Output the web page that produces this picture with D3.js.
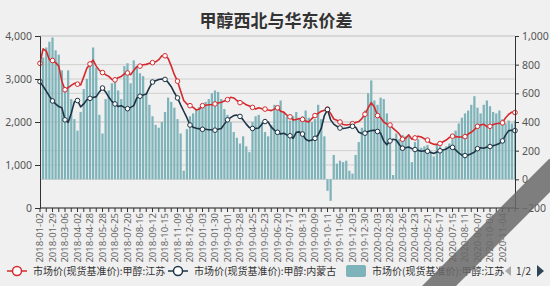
<!DOCTYPE html>
<html>
<head>
<meta charset="utf-8">
<script src="https://cdn.jsdelivr.net/npm/d3@7"></script>
<style>
  html, body { margin: 0; padding: 0; background: #f0f0f0; }
  svg { display: block; font-family: "Noto Sans CJK SC", "Noto Sans", sans-serif; }
</style>
</head>
<body>
<div id="chart"></div>
<script>
// weekly samples, 2018-01-02 .. end of 2020-11
var tickLabels = ["2018-01-02","2018-01-29","2018-03-06","2018-04-02","2018-04-28","2018-05-28","2018-06-25",
  "2018-07-20","2018-08-16","2018-09-12","2018-10-15","2018-11-09","2018-12-06","2019-01-03","2019-01-30",
  "2019-03-01","2019-03-28","2019-04-25","2019-05-23","2019-06-20","2019-07-17","2019-08-13","2019-09-09",
  "2019-10-11","2019-11-06","2019-12-03","2019-12-30","2020-02-03","2020-02-28","2020-03-26","2020-04-23",
  "2020-05-21","2020-06-17","2020-07-15","2020-08-11","2020-09-07","2020-10-09","2020-11-04"];

// 市场价(现货基准价):甲醇:江苏  (left axis)
var jiangsu = [3365,3700,3650,3450,3430,3380,3300,2950,2750,2800,2850,2900,2880,2860,3050,3250,3350,3440,3300,3200,
  3150,3100,3060,2990,2980,3030,3060,3120,3140,3100,3200,3290,3300,3330,3340,3365,3380,3400,3450,3540,
  3540,3480,3300,3100,2950,2720,2500,2420,2380,2340,2280,2300,2380,2390,2400,2400,2420,2440,2460,2490,
  2520,2575,2560,2500,2450,2450,2400,2370,2340,2300,2330,2310,2300,2280,2265,2300,2330,2250,2230,2160,
  2120,2050,2060,2080,2060,2020,2000,2080,2150,2200,2250,2270,2300,2200,2070,2040,2000,1940,1930,1940,
  1960,1990,2010,2080,2180,2330,2450,2350,2150,2100,2000,1950,1930,1850,1790,1720,1600,1620,1700,1600,
  1630,1670,1650,1610,1580,1510,1480,1480,1500,1540,1580,1640,1670,1660,1650,1650,1660,1720,1760,1820,
  1900,1930,1950,1890,1900,1940,1960,1970,1980,2100,2180,2230,2220];

// 市场价(现货基准价):甲醇:内蒙古  (left axis)
var neimenggu = [2940,2830,2720,2600,2490,2420,2360,2330,2050,1990,2200,2470,2500,2350,2420,2520,2550,2570,2590,2700,
  2790,2700,2580,2480,2420,2360,2380,2340,2310,2340,2380,2560,2600,2630,2650,2800,2930,2960,2990,3000,
  2990,2920,2820,2680,2560,2400,2250,2100,1930,1880,1855,1840,1830,1830,1820,1820,1810,1830,1850,1950,
  2050,2100,2150,2160,2130,2050,1950,1870,1850,1850,1860,1950,2010,2000,1880,1810,1760,1720,1740,1700,
  1680,1620,1760,1770,1720,1600,1560,1580,1620,1700,1850,2150,2290,2050,1950,1900,1860,1850,1860,1880,
  1900,1880,1760,1730,1740,1780,1800,1810,1780,1740,1560,1470,1560,1600,1580,1470,1390,1400,1420,1380,
  1360,1340,1320,1330,1320,1290,1270,1300,1330,1350,1370,1420,1410,1350,1280,1230,1220,1230,1260,1300,
  1380,1400,1390,1420,1430,1450,1470,1500,1560,1700,1800,1810,1800];

// 价差 (right axis, bars)
var spread = [900,850,920,960,990,900,870,760,620,760,560,420,340,470,630,700,790,920,780,450,
  320,560,620,670,710,620,560,790,810,670,830,790,740,720,600,520,440,380,360,400,
  470,570,540,500,420,320,60,350,440,460,490,505,520,540,560,600,620,610,560,490,
  450,400,330,290,250,300,230,190,400,440,450,400,330,300,380,520,500,550,470,440,
  410,440,470,420,440,480,430,400,420,520,420,300,-80,-150,170,110,130,120,130,60,
  40,170,260,360,480,600,690,550,520,570,560,460,370,30,320,280,310,300,300,120,
  260,280,220,230,240,200,160,240,230,210,230,250,280,340,390,430,460,480,520,580,
  500,460,520,550,510,470,460,480,420,390,410,390,410];

var leftTicks = [0, 1000, 2000, 3000, 4000];
var rightTicks = [-200, 0, 200, 400, 600, 800, 1000];
var legendNames = ["市场价(现货基准价):甲醇:江苏", "市场价(现货基准价):甲醇:内蒙古", "市场价(现货基准价):甲醇:江苏"];

var W = 550, H = 286;
var plotL = 40, plotR = 515, plotT = 36, plotB = 208;
var red = "#d42a2e", navy = "#1e3446", teal = "#7db3b9";

var svg = d3.select("#chart").append("svg").attr("width", W).attr("height", H);
svg.append("rect").attr("width", W).attr("height", H).attr("fill", "#f0f0f0");

var x = d3.scaleLinear().domain([0, jiangsu.length - 1]).range([plotL, plotR]);
var yL = d3.scaleLinear().domain([0, 4000]).range([plotB, plotT]);
var yR = d3.scaleLinear().domain([-200, 1000]).range([plotB, plotT]);

// title
svg.append("text").attr("x", 276).attr("y", 27).attr("text-anchor", "middle")
  .attr("font-size", 17).attr("font-weight", "bold").attr("fill", "#333")
  .text("甲醇西北与华东价差");

// split lines for both axes
var grid = svg.append("g");
leftTicks.forEach(function(t){
  grid.append("line").attr("x1", plotL).attr("x2", plotR).attr("y1", yL(t)).attr("y2", yL(t))
    .attr("stroke", "#cfcfcf").attr("stroke-width", 1);
});
rightTicks.forEach(function(t){
  grid.append("line").attr("x1", plotL).attr("x2", plotR).attr("y1", yR(t)).attr("y2", yR(t))
    .attr("stroke", "#cfcfcf").attr("stroke-width", 1);
});

svg.append("clipPath").attr("id", "plot").append("rect")
  .attr("x", plotL).attr("y", plotT - 2).attr("width", plotR - plotL).attr("height", plotB - plotT + 2);

var step = x(1) - x(0);
svg.append("g").attr("clip-path", "url(#plot)")
  .selectAll("rect").data(spread).enter().append("rect")
    .attr("x", function(d, i){ return x(i) - step / 2 + 0.45; })
    .attr("width", step - 0.9)
    .attr("y", function(d){ return Math.min(yR(d), yR(0)); })
    .attr("height", function(d){ return Math.abs(yR(d) - yR(0)); })
    .attr("fill", teal);

function drawLine(values, color){
  var line = d3.line().x(function(d, i){ return x(i); }).y(function(d){ return yL(d); });
  svg.append("path").datum(values).attr("d", line)
    .attr("fill", "none").attr("stroke", color).attr("stroke-width", 1.6)
    .attr("stroke-linejoin", "round");
  svg.append("g").selectAll("circle")
    .data(values.map(function(v, i){ return [i, v]; }).filter(function(p){ return p[0] % 4 === 0; }))
    .enter().append("circle")
      .attr("cx", function(p){ return x(p[0]); })
      .attr("cy", function(p){ return yL(p[1]); })
      .attr("r", 2.3).attr("fill", "#fff").attr("stroke", color).attr("stroke-width", 1);
}
drawLine(jiangsu, red);
drawLine(neimenggu, navy);

// axes
var leftAxis = d3.axisLeft(yL).tickValues(leftTicks).tickSize(5).tickPadding(3).tickFormat(d3.format(","));
var rightAxis = d3.axisRight(yR).tickValues(rightTicks).tickSize(4).tickPadding(3).tickFormat(d3.format(","));
var gl = svg.append("g").attr("transform", "translate(" + plotL + ",0)").call(leftAxis);
var gr = svg.append("g").attr("transform", "translate(" + plotR + ",0)").call(rightAxis);
[gl, gr].forEach(function(g){
  g.select(".domain").attr("stroke", "#333");
  g.selectAll(".tick line").attr("stroke", "#333");
  g.selectAll("text").attr("font-size", 10.5).attr("fill", "#555").attr("font-family", "\"Noto Sans\", sans-serif");
});

var gx = svg.append("g");
gx.append("line").attr("x1", plotL).attr("x2", plotR).attr("y1", plotB).attr("y2", plotB).attr("stroke", "#333");
d3.range(0, jiangsu.length, 2).forEach(function(i){
  gx.append("line").attr("x1", x(i)).attr("x2", x(i)).attr("y1", plotB).attr("y2", plotB + 4).attr("stroke", "#333");
});
tickLabels.forEach(function(lab, k){
  gx.append("text")
    .attr("transform", "translate(" + (x(k * 4) + 3) + "," + (plotB + 5) + ") rotate(-90)")
    .attr("text-anchor", "end").attr("font-size", 9.5).attr("fill", "#666")
    .attr("font-family", "\"Noto Sans\", sans-serif")
    .text(lab);
});

// legend
var lg = svg.append("g").attr("font-size", 10).attr("fill", "#333");
[[7, red], [168, navy]].forEach(function(it, k){
  lg.append("line").attr("x1", it[0]).attr("x2", it[0] + 20).attr("y1", 271).attr("y2", 271)
    .attr("stroke", it[1]).attr("stroke-width", 1.5);
  lg.append("circle").attr("cx", it[0] + 10).attr("cy", 271).attr("r", 4.5)
    .attr("fill", "#fff").attr("stroke", it[1]).attr("stroke-width", 1.5);
  lg.append("text").attr("x", it[0] + 26).attr("y", 274.5).text(legendNames[k]);
});
lg.append("rect").attr("x", 346).attr("y", 265).attr("width", 20).attr("height", 12).attr("rx", 2).attr("fill", teal);
lg.append("text").attr("x", 372).attr("y", 274.5).text(legendNames[2]);
lg.append("path").attr("d", "M511,266 L505,271 L511,276 Z").attr("fill", "#aaa");
lg.append("text").attr("x", 516).attr("y", 274.5).attr("fill", "#333").text("1/2");
lg.append("path").attr("d", "M537,265 L544,271 L537,277 Z").attr("fill", "#2f4554");

// watermark band
svg.append("rect").attr("x", -100).attr("y", -12).attr("width", 200).attr("height", 24)
  .attr("transform", "translate(487,238) rotate(-45)")
  .attr("fill", "#6a6a6a").attr("opacity", 0.85);
</script>
</body>
</html>
